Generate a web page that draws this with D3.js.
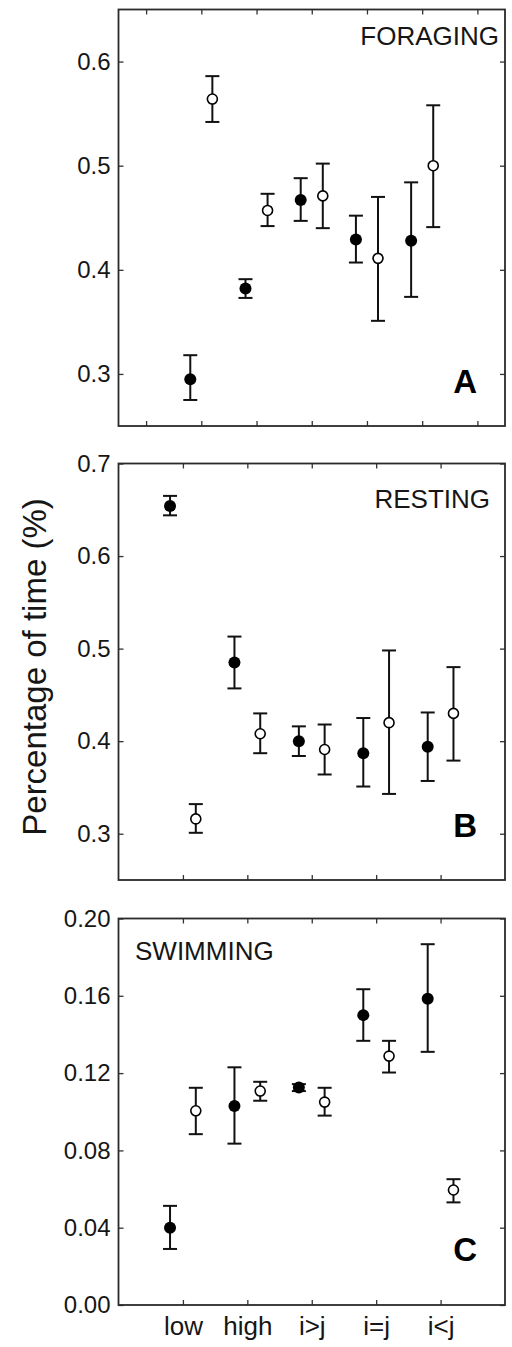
<!DOCTYPE html>
<html><head><meta charset="utf-8">
<script src="https://cdn.jsdelivr.net/npm/d3@7"></script>
<style>html,body{margin:0;padding:0;background:#fff;}svg{display:block;}</style>
</head><body>
<script>
// ---- data ----
const categories = ["low", "high", "i>j", "i=j", "i<j"];

const foragingFilled     = [0.295, 0.382, 0.467, 0.429, 0.428];
const foragingFilledLow  = [0.275, 0.373, 0.447, 0.407, 0.374];
const foragingFilledHigh = [0.318, 0.391, 0.488, 0.452, 0.484];
const foragingOpen       = [0.564, 0.457, 0.471, 0.411, 0.500];
const foragingOpenLow    = [0.542, 0.442, 0.440, 0.351, 0.441];
const foragingOpenHigh   = [0.586, 0.473, 0.502, 0.470, 0.558];

const restingFilled     = [0.654, 0.485, 0.400, 0.387, 0.394];
const restingFilledLow  = [0.644, 0.457, 0.384, 0.351, 0.357];
const restingFilledHigh = [0.665, 0.513, 0.416, 0.425, 0.431];
const restingOpen       = [0.316, 0.408, 0.391, 0.420, 0.430];
const restingOpenLow    = [0.301, 0.387, 0.364, 0.343, 0.379];
const restingOpenHigh   = [0.332, 0.430, 0.418, 0.498, 0.480];

const swimmingFilled     = [0.040, 0.103, 0.1125, 0.150, 0.1585];
const swimmingFilledLow  = [0.029, 0.0835, 0.1107, 0.1367, 0.131];
const swimmingFilledHigh = [0.0513, 0.123, 0.1143, 0.1634, 0.1867];
const swimmingOpen       = [0.1005, 0.1107, 0.105, 0.1288, 0.0595];
const swimmingOpenLow    = [0.0884, 0.1057, 0.098, 0.1203, 0.0531];
const swimmingOpenHigh   = [0.1124, 0.1155, 0.1124, 0.1367, 0.0651];

const foragingTicks = [0.3, 0.4, 0.5, 0.6];
const restingTicks  = [0.3, 0.4, 0.5, 0.6, 0.7];
const swimmingTicks = [0.00, 0.04, 0.08, 0.12, 0.16, 0.20];

const panelTitles  = ["FORAGING", "RESTING", "SWIMMING"];
const panelLetters = ["A", "B", "C"];
const yLabel = "Percentage of time (%)";

// ---- layout ----
const W = 512, H = 1347;
const left = 118.5, right = 505;
const svg = d3.select("body").append("svg").attr("width", W).attr("height", H);
const font = "Liberation Sans, Arial, sans-serif";
const ink = "#161616";

const panels = [
  {top: 9.5, bottom: 426, yDomain: [0.25, 0.65], ticks: foragingTicks, fmt: d3.format(".1f"),
   xDomain: [-0.5, 6.5], xTicks: [0,1,2,3,4,5,6],
   filled: foragingFilled, fLo: foragingFilledLow, fHi: foragingFilledHigh,
   open: foragingOpen, oLo: foragingOpenLow, oHi: foragingOpenHigh,
   title: panelTitles[0], titleX: 499, titleY: 45, titleAnchor: "end",
   letter: panelLetters[0], letterY: 393},
  {top: 463.5, bottom: 880, yDomain: [0.25, 0.70], ticks: restingTicks, fmt: d3.format(".1f"),
   xDomain: [0, 6], xTicks: [1,2,3,4,5],
   filled: restingFilled, fLo: restingFilledLow, fHi: restingFilledHigh,
   open: restingOpen, oLo: restingOpenLow, oHi: restingOpenHigh,
   title: panelTitles[1], titleX: 490, titleY: 508, titleAnchor: "end",
   letter: panelLetters[1], letterY: 837},
  {top: 918.5, bottom: 1305, yDomain: [0, 0.20], ticks: swimmingTicks, fmt: d3.format(".2f"),
   xDomain: [0, 6], xTicks: [1,2,3,4,5],
   filled: swimmingFilled, fLo: swimmingFilledLow, fHi: swimmingFilledHigh,
   open: swimmingOpen, oLo: swimmingOpenLow, oHi: swimmingOpenHigh,
   title: panelTitles[2], titleX: 135, titleY: 960, titleAnchor: "start",
   letter: panelLetters[2], letterY: 1261, labels: true}
];

const offset = 0.2;

panels.forEach(p => {
  const x = d3.scaleLinear().domain(p.xDomain).range([left, right]);
  const y = d3.scaleLinear().domain(p.yDomain).range([p.bottom, p.top]);
  const g = svg.append("g");

  // left axis with labels
  const ax = g.append("g").attr("transform", `translate(${left},0)`)
    .call(d3.axisLeft(y).tickValues(p.ticks).tickFormat(p.fmt).tickSizeInner(-5).tickSizeOuter(0).tickPadding(8));
  // right axis ticks
  const ar = g.append("g").attr("transform", `translate(${right},0)`)
    .call(d3.axisRight(y).tickValues(p.ticks).tickFormat("").tickSizeInner(-5).tickSizeOuter(0));
  // bottom axis
  const ab = g.append("g").attr("transform", `translate(0,${p.bottom})`)
    .call(d3.axisBottom(x).tickValues(p.xTicks)
      .tickFormat(p.labels ? (d => categories[d - 1]) : "")
      .tickSizeInner(-5).tickSizeOuter(0).tickPadding(12));
  // top axis
  const at = g.append("g").attr("transform", `translate(0,${p.top})`)
    .call(d3.axisTop(x).tickValues(p.xTicks).tickFormat("").tickSizeInner(-5).tickSizeOuter(0));

  [ax, ar, ab, at].forEach(a => {
    a.select(".domain").remove();
    a.selectAll(".tick line").attr("stroke", "#333").attr("stroke-width", 1.3);
    a.selectAll(".tick text").attr("fill", ink).style("font-family", font);
  });
  ax.selectAll(".tick text").style("font-size", "24px");
  ab.selectAll(".tick text").style("font-size", "26px").attr("dy", "0.71em");

  // frame
  g.append("rect").attr("x", left).attr("y", p.top)
    .attr("width", right - left).attr("height", p.bottom - p.top)
    .attr("fill", "none").attr("stroke", "#2a2a2a").attr("stroke-width", 1.8);

  // title and letter
  g.append("text").attr("x", p.titleX).attr("y", p.titleY).attr("text-anchor", p.titleAnchor)
    .style("font-family", font).style("font-size", "26px").attr("fill", ink).text(p.title);
  g.append("text").attr("x", 477).attr("y", p.letterY).attr("text-anchor", "end")
    .style("font-family", font).style("font-size", "33px").style("font-weight", "bold")
    .attr("fill", "#000").text(p.letter);

  const series = [
    {vals: p.filled, lo: p.fLo, hi: p.fHi, dx: -offset, filled: true},
    {vals: p.open, lo: p.oLo, hi: p.oHi, dx: offset, filled: false}
  ];
  series.forEach(s => {
    const data = s.vals.map((v, i) => ({x: i + 1 + s.dx, v, lo: s.lo[i], hi: s.hi[i]}));
    const eg = g.append("g").attr("stroke", "#111").attr("stroke-width", 2).attr("fill", "none");
    eg.selectAll("line.v").data(data).join("line").attr("class", "v")
      .attr("x1", d => x(d.x)).attr("x2", d => x(d.x))
      .attr("y1", d => y(d.lo)).attr("y2", d => y(d.hi));
    eg.selectAll("line.t").data(data).join("line").attr("class", "t")
      .attr("x1", d => x(d.x) - 7).attr("x2", d => x(d.x) + 7)
      .attr("y1", d => y(d.hi)).attr("y2", d => y(d.hi));
    eg.selectAll("line.b").data(data).join("line").attr("class", "b")
      .attr("x1", d => x(d.x) - 7).attr("x2", d => x(d.x) + 7)
      .attr("y1", d => y(d.lo)).attr("y2", d => y(d.lo));
    g.selectAll(null).data(data).join("circle")
      .attr("cx", d => x(d.x)).attr("cy", d => y(d.v))
      .attr("r", s.filled ? 6 : 5)
      .attr("fill", s.filled ? "#000" : "#fff")
      .attr("stroke", "#000").attr("stroke-width", s.filled ? 0 : 1.6);
  });
});

// shared y label
svg.append("text")
  .attr("transform", `translate(46,667) rotate(-90)`)
  .attr("text-anchor", "middle")
  .style("font-family", font).style("font-size", "33px").attr("fill", ink)
  .text(yLabel);
</script>
</body></html>
